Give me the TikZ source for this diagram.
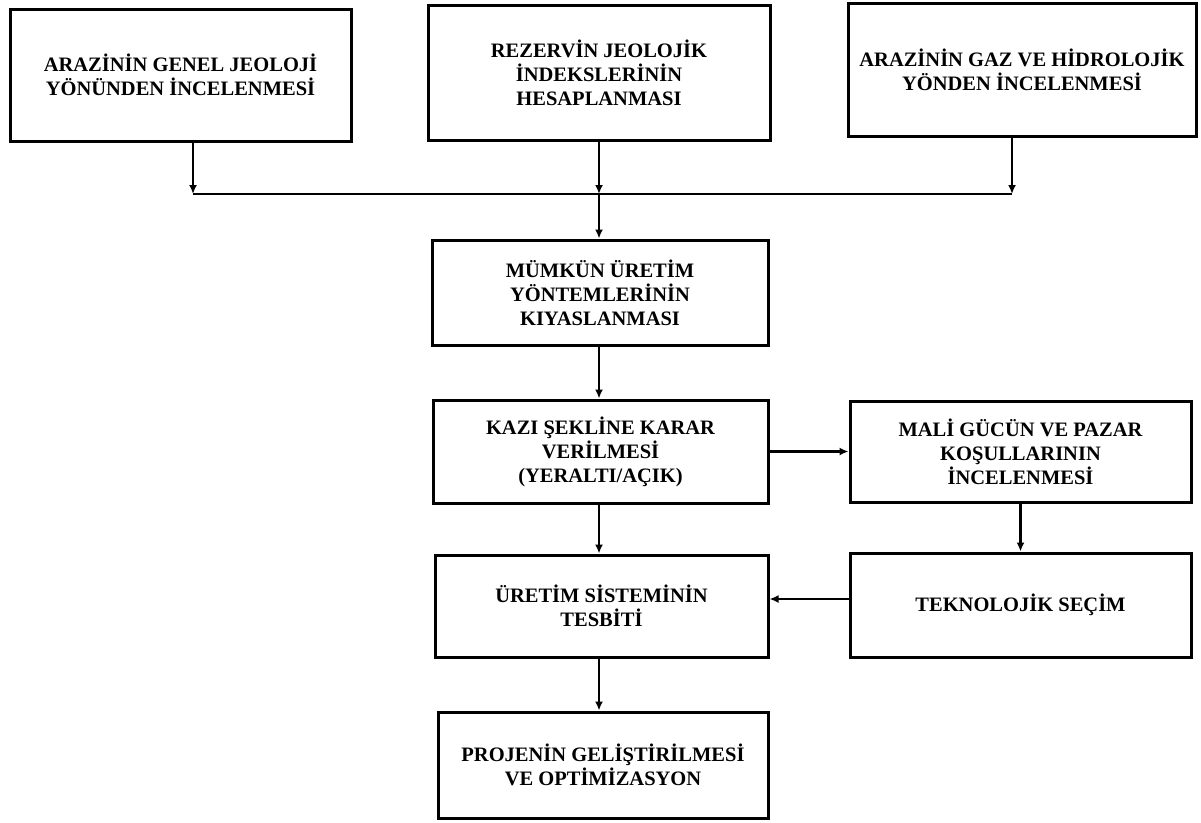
\documentclass[tikz,border=0pt]{standalone}
\usepackage{fontspec}
\setmainfont{Liberation Serif}
\usetikzlibrary{positioning,arrows.meta}

\begin{document}
\begin{tikzpicture}[x=1pt,y=-1pt,
  block/.style={draw,line width=3pt,align=center,inner sep=0pt,
    font=\bfseries\fontsize{20.5}{24}\selectfont},
  link/.style={line width=2.4pt,-{Latex[length=9pt,width=8pt]}}]
  \useasboundingbox (0,0) rectangle (1201,822);
  % upper boxes
  \node[block,minimum width=341,minimum height=132] at(180.5,75)(geo){ARAZİNİN GENEL JEOLOJİ\\YÖNÜNDEN İNCELENMESİ};
  \node[block,minimum width=342,minimum height=135] at(599,72.5)(rez){REZERVİN JEOLOJİK\\İNDEKSLERİNİN\\HESAPLANMASI};
  \node[block,minimum width=348,minimum height=133] at(1022,69.5)(gaz){ARAZİNİN GAZ VE HİDROLOJİK\\YÖNDEN İNCELENMESİ};
  % middle column
  \node[block,minimum width=336,minimum height=105] at(600,292.5)(mumkun){MÜMKÜN ÜRETİM\\YÖNTEMLERİNİN\\KIYASLANMASI};
  \node[block,minimum width=335,minimum height=103] at(600.5,451.5)(kazi){KAZI ŞEKLİNE KARAR\\VERİLMESİ\\(YERALTI/AÇIK)};
  \node[block,minimum width=333,minimum height=102] at(601.5,606)(uretim){ÜRETİM SİSTEMİNİN\\TESBİTİ};
  \node[block,minimum width=330,minimum height=106] at(603,765)(proje){PROJENİN GELİŞTİRİLMESİ\\VE OPTİMİZASYON};
  % right column
  \node[block,minimum width=341,minimum height=101] at(1020.5,451.5)(mali){MALİ GÜCÜN VE PAZAR\\KOŞULLARININ\\İNCELENMESİ};
  \node[block,minimum width=341,minimum height=104] at(1020.5,605)(tekno){TEKNOLOJİK SEÇİM};
  % collecting line
  \coordinate (jgeo) at (193,194);
  \coordinate (jgaz) at (1012,194);
  \coordinate (jrez) at (rez.south |- jgeo);
  \draw[link] (geo.south -| jgeo) -- (jgeo);
  \draw[link] (rez.south) -- (jrez);
  \draw[link] (gaz.south -| jgaz) -- (jgaz);
  \draw[line width=2.4pt] (jgeo) -- (jgaz);
  % flow
  \draw[link] (jrez) -- (jrez |- mumkun.north);
  \draw[link] (jrez |- mumkun.south) -- (jrez |- kazi.north);
  \draw[link] (kazi.east) -- (mali.west);
  \draw[link] (mali.south) -- (mali.south |- tekno.north);
  \draw[link] (jrez |- kazi.south) -- (jrez |- uretim.north);
  \draw[link] ([yshift=6pt]tekno.west) -- ([yshift=6pt]tekno.west -| uretim.east);
  \draw[link] (jrez |- uretim.south) -- (jrez |- proje.north);
\end{tikzpicture}
\end{document}
